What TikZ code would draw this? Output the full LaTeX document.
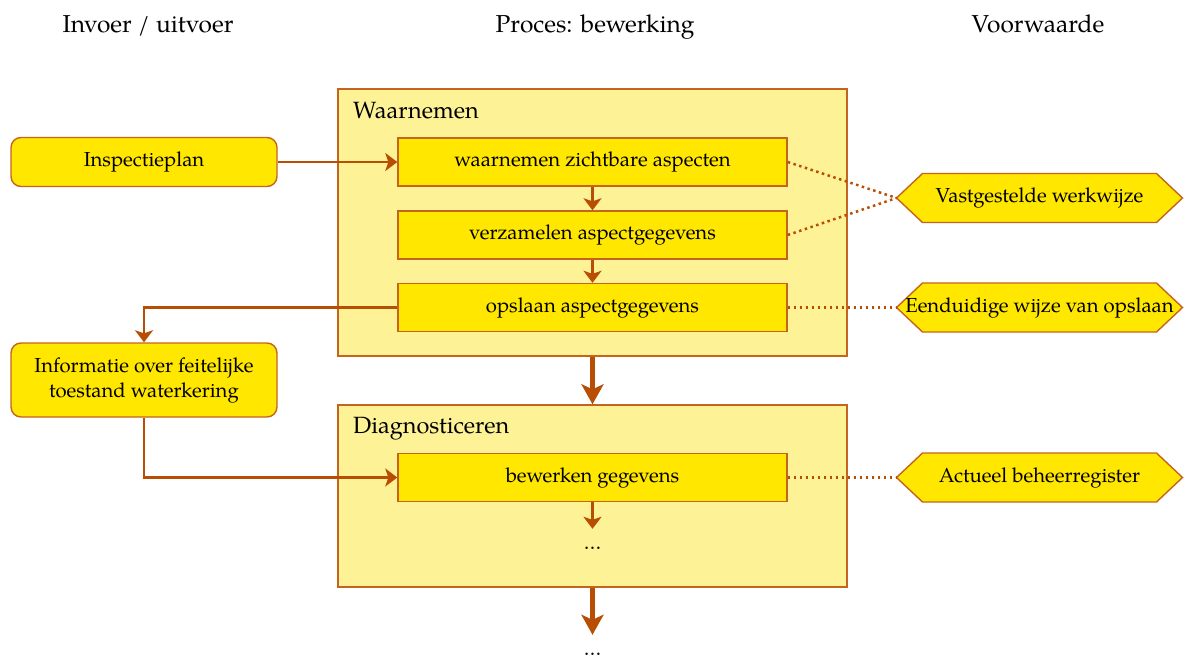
\documentclass[tikz,border=0pt]{standalone}
\usepackage{fontspec}
\setmainfont{TeX Gyre Pagella}
\usetikzlibrary{arrows.meta,calc}
\definecolor{boxfill}{RGB}{255,231,0}
\definecolor{contfill}{RGB}{253,242,150}
\definecolor{bordcol}{RGB}{196,100,30}
\definecolor{arrcol}{RGB}{184,78,4}
\newcommand\hexbox[4]{%
  \draw[hexshape] (#2-143,#3) -- (#2-117,#3-24.5) -- (#2+117,#3-24.5) -- (#2+143,#3)
    -- (#2+117,#3+24.5) -- (#2-117,#3+24.5) -- cycle;
  \node[hextext] (#1) at (#2,#3) {#4};
  \coordinate (#1tip) at (#2-143,#3);
}
\begin{document}
\begin{tikzpicture}[x=1pt,y=-1pt,
  every node/.style={font=\fontsize{20.3}{25}\selectfont},
  headlbl/.style={anchor=base, font=\fontsize{24.5}{28}\selectfont},
  conttitle/.style={anchor=base west, inner sep=0pt, font=\fontsize{23.5}{28}\selectfont},
  cont/.style={draw=bordcol, fill=contfill, line width=1.4pt, minimum width=509pt, inner sep=0pt},
  proc/.style={draw=bordcol, fill=boxfill, line width=1.4pt, minimum width=389pt, minimum height=48pt, inner sep=0pt},
  inout/.style={draw=bordcol, fill=boxfill, line width=1.4pt, rounded corners=10pt, minimum width=266pt, inner sep=0pt, align=center},
  hexshape/.style={draw=bordcol, fill=boxfill, line width=1.4pt, line join=miter},
  hextext/.style={inner sep=0pt},
  dotnode/.style={anchor=base, inner sep=0pt, text height=20pt},
  arr/.style={draw=arrcol, line width=2.7pt, -{Stealth[length=12pt,width=18pt,inset=3pt]}},
  bigarr/.style={draw=arrcol, line width=5pt, -{Stealth[length=20pt,width=22pt,inset=5pt]}},
  link/.style={draw=arrcol, line width=2.5pt, dash pattern=on 2.5pt off 3.5pt}
]
\useasboundingbox (0,0) rectangle (1184,659);

% column headings
\node[headlbl] (h-io) at (148,32) {Invoer / uitvoer};
\node[headlbl] (h-proc) at (595,32) {Proces: bewerking};
\node[headlbl] (h-cond) at (1038,32) {Voorwaarde};

% containers
\node[cont, minimum height=267pt] (waar) at (592.5,222.5) {};
\node[conttitle] (waart) at (353,118) {Waarnemen};
\node[cont, minimum height=182pt] (diag) at (592.5,496) {};
\node[conttitle] (diagt) at (353,433) {Diagnosticeren};

% process boxes
\node[proc] (b1) at (592.5,162) {waarnemen zichtbare aspecten};
\node[proc] (b2) at (592.5,235) {verzamelen aspectgegevens};
\node[proc] (b3) at (592.5,307.5) {opslaan aspectgegevens};
\node[proc] (b4) at (592.5,477.5) {bewerken gegevens};
\node[dotnode] (d1) at (592.5,549) {\dots};
\node[dotnode] (d2) at (592.5,655) {\dots};

% input / output
\node[inout, minimum height=49pt] (insp) at (144,162) {Inspectieplan};
\node[inout, minimum height=74pt] (info) at (144,380) {Informatie over feitelijke\\toestand waterkering};

% conditions
\hexbox{c1}{1039.5}{198}{Vastgestelde werkwijze}
\hexbox{c2}{1039.5}{307.5}{Eenduidige wijze van opslaan}
\hexbox{c3}{1039.5}{477.5}{Actueel beheerregister}

% connectors
\draw[arr] (insp.east) -- (b1.west);
\draw[arr] (b1.south) -- (b2.north);
\draw[arr] (b2.south) -- (b3.north);
\draw[arr] (b3.west) -| (info.north);
\draw[arr] (info.south) |- (b4.west);
\draw[arr] (b4.south) -- (d1.north);
\draw[bigarr] (waar.south) -- (diag.north);
\draw[bigarr] (diag.south) -- (d2.north);

\draw[link] (b1.east) -- (c1tip);
\draw[link] (b2.east) -- (c1tip);
\draw[link] (b3.east) -- (c2tip);
\draw[link] (b4.east) -- (c3tip);
\end{tikzpicture}
\end{document}
